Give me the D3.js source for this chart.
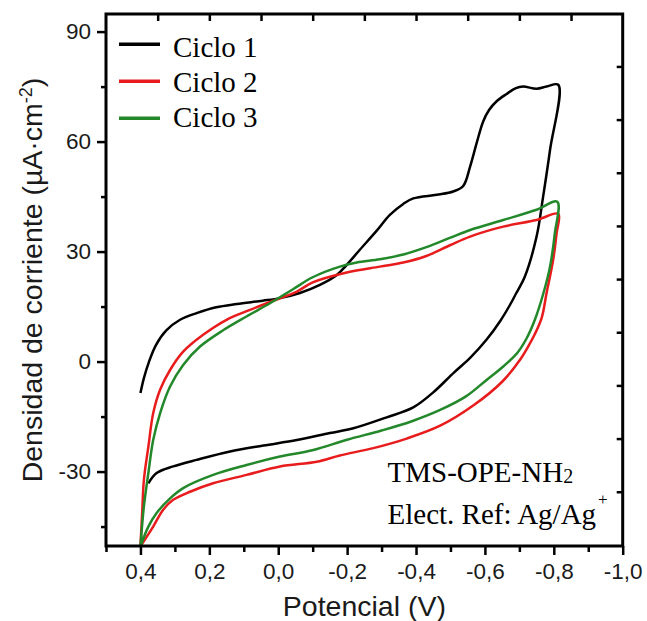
<!DOCTYPE html>
<html lang="es">
<head>
<meta charset="UTF-8">
<title>Voltametría cíclica TMS-OPE-NH2</title>
<script src="https://d3js.org/d3.v7.min.js"></script>
<style>
  body { margin: 0; background: #fff; }
  svg { display: block; }
</style>
</head>
<body>
<script>
// Ciclo 1 (barrido de ida y vuelta), potencial en V y corriente en µA/cm2
const ciclo1Potencial = [0.400, 0.390, 0.375, 0.355, 0.325, 0.285, 0.237, 0.180, 0.120, 0.045, -0.005, -0.063, -0.121, -0.170,
  -0.199, -0.237, -0.286, -0.324, -0.363, -0.392, -0.460, -0.508, -0.537, -0.557, -0.576, -0.595, -0.612, -0.634, -0.663,
  -0.690, -0.711, -0.750, -0.779, -0.813,
  -0.789, -0.769, -0.750, -0.716, -0.690, -0.673, -0.644, -0.605, -0.557, -0.510, -0.450, -0.392, -0.315, -0.218, -0.150,
  -0.054, 0.043, 0.140, 0.237, 0.305, 0.353, 0.377];
const ciclo1Corriente = [-8.6, -4.5, 0.0, 4.5, 8.5, 11.4, 13.2, 14.8, 15.7, 16.6, 17.3, 18.7, 20.9, 23.6,
  26.4, 30.5, 35.7, 40.0, 43.0, 44.5, 45.5, 46.4, 47.9, 53.2, 59.6, 65.5, 68.6, 71.0, 73.0,
  74.6, 75.0, 74.4, 75.0, 75.5,
  57.7, 45.0, 34.1, 23.2, 18.5, 15.5, 11.0, 6.0, 1.0, -3.0, -8.4, -12.5, -15.2, -18.2, -19.5,
  -21.4, -22.9, -24.5, -26.8, -28.6, -30.4, -33.2];

// Ciclo 2
const ciclo2Potencial = [0.400, 0.395, 0.390, 0.377, 0.363, 0.343, 0.314, 0.276, 0.218, 0.150, 0.082, 0.014, -0.054, -0.100,
  -0.199, -0.295, -0.363, -0.430, -0.500, -0.557, -0.653, -0.750, -0.813,
  -0.808, -0.798, -0.779, -0.765, -0.745, -0.725, -0.702, -0.650, -0.566, -0.470, -0.373, -0.276, -0.179, -0.112,
  -0.005, 0.092, 0.189, 0.256, 0.305, 0.334, 0.363, 0.400];
const ciclo2Corriente = [-50.4, -41.3, -32.3, -23.2, -14.1, -7.7, -2.3, 2.7, 7.3, 11.4, 14.1, 16.6, 19.1, 21.6,
  24.3, 25.9, 27.0, 28.8, 31.8, 34.1, 36.8, 38.6, 40.3,
  35.0, 27.7, 18.7, 12.0, 7.5, 4.0, 0.5, -5.5, -12.0, -17.5, -21.0, -23.6, -25.6, -27.3,
  -28.6, -30.9, -33.2, -35.5, -37.7, -40.4, -45.0, -50.4];

// Ciclo 3
const ciclo3Potencial = [0.400, 0.390, 0.377, 0.363, 0.343, 0.314, 0.276, 0.227, 0.159, 0.092, 0.024, -0.044, -0.100,
  -0.179, -0.228, -0.295, -0.363, -0.430, -0.500, -0.557, -0.653, -0.750, -0.810,
  -0.803, -0.789, -0.770, -0.745, -0.722, -0.695, -0.655, -0.605, -0.545, -0.470, -0.390, -0.300, -0.200, -0.102,
  -0.005, 0.092, 0.189, 0.276, 0.314, 0.353, 0.377, 0.400];
const ciclo3Corriente = [-50.4, -39.5, -30.4, -21.4, -14.1, -6.8, -0.9, 4.1, 8.6, 12.3, 15.9, 19.8, 23.0,
  25.9, 27.0, 27.9, 29.2, 31.2, 33.8, 35.9, 38.6, 41.4, 43.6,
  35.0, 25.9, 18.7, 11.4, 6.5, 2.5, -1.2, -5.0, -9.5, -13.2, -16.2, -18.8, -21.3, -24.1,
  -25.9, -28.2, -30.9, -34.5, -37.3, -41.3, -45.0, -50.4];

const seriesNames = ["Ciclo 1", "Ciclo 2", "Ciclo 3"];
const seriesColors = ["#000000", "#e81c1c", "#22882a"];

const xMajorTicks = [0.4, 0.2, 0.0, -0.2, -0.4, -0.6, -0.8, -1.0];
const xMinorTicks = [0.5, 0.3, 0.1, -0.1, -0.3, -0.5, -0.7, -0.9];
const yMajorTicks = [-30, 0, 30, 60, 90];
const yMinorTicks = [-45, -15, 15, 45, 75];
const topTicks = [0.35, 0.2, 0.05, -0.1, -0.25, -0.4, -0.55, -0.7, -0.85];
const rightTicks = [-35.5, -21, -6.5, 8, 22.5, 37, 51.5, 66, 80.5];

const width = 647, height = 621;
const plotLeft = 106, plotRight = 622.7, plotTop = 14, plotBottom = 546;

const svg = d3.select("body").append("svg")
  .attr("width", width)
  .attr("height", height);

const xScale = d3.scaleLinear().domain([0.5, -1.0]).range([plotLeft, plotRight]);
const yScale = d3.scaleLinear().domain([-50.3, 94.8]).range([plotBottom, plotTop]);

// formato con coma decimal y guion simple
const es = d3.formatLocale({decimal: ",", thousands: ".", grouping: [3], currency: ["", ""], minus: "-"});
const fmtX = es.format(".1f");
const fmtY = es.format("d");

const potenciales = [ciclo1Potencial, ciclo2Potencial, ciclo3Potencial];
const corrientes = [ciclo1Corriente, ciclo2Corriente, ciclo3Corriente];
const series = seriesNames.map((name, i) => ({
  name: name,
  color: seriesColors[i],
  points: d3.zip(potenciales[i], corrientes[i])
}));

const line = d3.line()
  .x(d => xScale(d[0]))
  .y(d => yScale(d[1]))
  .curve(d3.curveCatmullRom.alpha(0.5));

svg.append("g").selectAll("path")
  .data(series)
  .join("path")
  .attr("fill", "none")
  .attr("stroke", d => d.color)
  .attr("stroke-width", 2.5)
  .attr("stroke-linejoin", "round")
  .attr("d", d => line(d.points));

// ejes
function styleAxis(g) {
  g.select(".domain").remove();
  g.selectAll(".tick line").attr("stroke", "#000").attr("stroke-width", 2.5);
  g.selectAll(".tick text")
    .attr("fill", "#1a1a1a")
    .style("font-family", "'Liberation Sans', Arial, sans-serif")
    .style("font-size", "22.5px");
}

svg.append("g")
  .attr("transform", `translate(0,${plotBottom})`)
  .call(d3.axisBottom(xScale).tickValues(xMajorTicks).tickSize(9).tickPadding(8).tickFormat(fmtX))
  .call(styleAxis);
svg.append("g")
  .attr("transform", `translate(0,${plotBottom})`)
  .call(d3.axisBottom(xScale).tickValues(xMinorTicks).tickSize(6).tickFormat(""))
  .call(styleAxis);

svg.append("g")
  .attr("transform", `translate(${plotLeft},0)`)
  .call(d3.axisLeft(yScale).tickValues(yMajorTicks).tickSize(9).tickPadding(6).tickFormat(fmtY))
  .call(styleAxis);
svg.append("g")
  .attr("transform", `translate(${plotLeft},0)`)
  .call(d3.axisLeft(yScale).tickValues(yMinorTicks).tickSize(5).tickFormat(""))
  .call(styleAxis);

// marcas interiores del eje superior y derecho
svg.append("g")
  .attr("transform", `translate(0,${plotTop})`)
  .call(d3.axisBottom(xScale).tickValues(topTicks).tickSize(7).tickFormat(""))
  .call(styleAxis);
svg.append("g")
  .attr("transform", `translate(${plotRight},0)`)
  .call(d3.axisLeft(yScale).tickValues(rightTicks).tickSize(6).tickFormat(""))
  .call(styleAxis);

svg.append("rect")
  .attr("x", plotLeft).attr("y", plotTop)
  .attr("width", plotRight - plotLeft).attr("height", plotBottom - plotTop)
  .attr("fill", "none")
  .attr("stroke", "#000")
  .attr("stroke-width", 3);

// titulos de ejes
svg.append("text")
  .attr("x", (plotLeft + plotRight) / 2)
  .attr("y", 616)
  .attr("text-anchor", "middle")
  .attr("fill", "#1a1a1a")
  .style("font-family", "'Liberation Sans', Arial, sans-serif")
  .style("font-size", "28.5px")
  .text("Potencial (V)");

const yTitle = svg.append("text")
  .attr("transform", `translate(41.5,${(plotTop + plotBottom) / 2}) rotate(-90)`)
  .attr("text-anchor", "middle")
  .attr("fill", "#1a1a1a")
  .style("font-family", "'Liberation Sans', Arial, sans-serif")
  .style("font-size", "28.5px");
yTitle.append("tspan").text("Densidad de corriente (µA·cm");
yTitle.append("tspan").attr("dy", -10).style("font-size", "18px").text("-2");
yTitle.append("tspan").attr("dy", 10).text(")");

// leyenda
const legend = svg.append("g")
  .selectAll("g")
  .data(series)
  .join("g");
legend.append("line")
  .attr("x1", 119).attr("x2", 160)
  .attr("y1", (d, i) => 44.3 + 37 * i)
  .attr("y2", (d, i) => 44.3 + 37 * i)
  .attr("stroke", d => d.color)
  .attr("stroke-width", 3.5);
legend.append("text")
  .attr("x", 173)
  .attr("y", (d, i) => 57.3 + 34.7 * i)
  .attr("fill", "#000")
  .style("font-family", "'Liberation Serif', 'Times New Roman', serif")
  .style("font-size", "29px")
  .text(d => d.name);

// anotaciones
const note1 = svg.append("text")
  .attr("x", 387.5).attr("y", 481.7)
  .attr("fill", "#000")
  .style("font-family", "'Liberation Serif', 'Times New Roman', serif")
  .style("font-size", "29px");
note1.append("tspan").text("TMS-OPE-NH");
note1.append("tspan").attr("dy", 1.5).style("font-size", "20px").text("2");

const note2 = svg.append("text")
  .attr("x", 387.5).attr("y", 524)
  .attr("fill", "#000")
  .style("font-family", "'Liberation Serif', 'Times New Roman', serif")
  .style("font-size", "29px");
note2.append("tspan").text("Elect. Ref: Ag/Ag");
note2.append("tspan").attr("dx", 2).attr("dy", -19).style("font-size", "17px").text("+");
</script>
</body>
</html>
